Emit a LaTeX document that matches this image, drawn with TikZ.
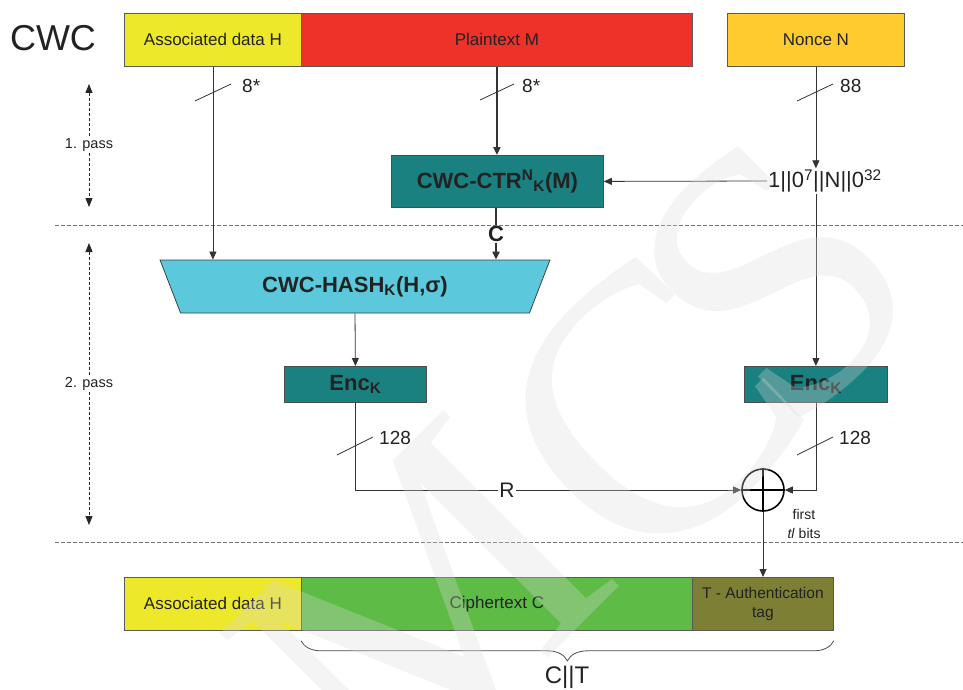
\documentclass[tikz,border=0pt]{standalone}
\usepackage{fontspec}
\setmainfont{Liberation Sans}
\newfontfamily\wmfont{Liberation Serif}
\usetikzlibrary{arrows.meta,shapes.geometric,decorations.pathreplacing}
\definecolor{cyel}{HTML}{EEE82A}
\definecolor{cred}{HTML}{EE3229}
\definecolor{corg}{HTML}{FFCB2E}
\definecolor{cteal}{HTML}{1B8080}
\definecolor{ccyan}{HTML}{5BC8DC}
\definecolor{cgrn}{HTML}{5DBB46}
\definecolor{coli}{HTML}{7D7F35}
\definecolor{ctxt}{HTML}{222222}
\begin{document}
\begin{tikzpicture}[x=1pt,y=-1pt,
  field/.style={draw=black!65, line width=0.8pt, inner sep=0pt, minimum height=53pt,
    anchor=north west, text=ctxt, font=\fontsize{17}{19}\selectfont},
  func/.style={draw=black!70, line width=0.8pt, inner sep=0pt, anchor=north west,
    fill=cteal, text=ctxt, font=\bfseries\fontsize{22}{24}\selectfont},
  lbl/.style={inner sep=1pt, text=ctxt, font=\fontsize{19}{21}\selectfont},
  conn/.style={draw=black!80, line width=0.8pt, -{Triangle[width=7pt,length=8pt]}},
  thin/.style={draw=black!80, line width=0.8pt},
  sep/.style={draw=black!55, line width=0.8pt, dash pattern=on 4pt off 2pt},
  pass/.style={draw=black!85, line width=0.8pt, dash pattern=on 3pt off 2pt,
    {Triangle[width=7pt,length=9pt]}-{Triangle[width=7pt,length=9pt]}},
  passlbl/.style={fill=white, inner sep=1pt, text=ctxt, font=\fontsize{14.5}{16}\selectfont},
  wmark/.style={rotate=45, inner sep=0pt, text=black!15, text opacity=0.3,
    font=\wmfont\fontsize{380}{380}\selectfont}]
\useasboundingbox (0,0) rectangle (963,690);

% title
\node[text=ctxt, font=\fontsize{36}{40}\selectfont] (title) at (53,38) {CWC};

% top row
\node[field, fill=cyel, minimum width=177pt] (ah) at (124,13) {Associated data H};
\node[field, fill=cred, minimum width=391pt] (pm) at (301,13) {Plaintext M};
\node[field, fill=corg, minimum width=177pt] (nn) at (727,13) {Nonce N};

% separators
\draw[sep] (55,225) -- (963,225);
\draw[sep] (55,542) -- (963,542);

% passes
\coordinate (p1a) at (89,84); \coordinate (p1b) at (89,207);
\coordinate (p2a) at (89,243); \coordinate (p2b) at (89,525);
\draw[pass] (p1a) -- (p1b);
\draw[pass] (p2a) -- (p2b);
\node[passlbl] (p1) at (89,145) {1. pass};
\node[passlbl] (p2) at (89,384) {2. pass};

% function boxes
\node[func, minimum width=212pt, minimum height=52pt] (ctr) at (391,155)
  {CWC-CTR\textsuperscript{N}\textsubscript{K}(M)};
\node[lbl, font=\fontsize{22}{24}\selectfont] (cnt) at (825,181)
  {1||0\textsuperscript{7}||N||0\textsuperscript{32}};
\node[trapezium, shape border rotate=180, trapezium angle=62, trapezium stretches=true,
  minimum width=390pt, minimum height=53pt, inner sep=0pt, draw=black!75, line width=0.8pt,
  fill=ccyan, text=ctxt, font=\bfseries\fontsize{22}{24}\selectfont] (hash) at (355,286.5)
  {CWC-HASH\textsubscript{K}(H,σ)};
\node[func, minimum width=142pt, minimum height=36pt] (encL) at (284,366) {Enc\textsubscript{K}};
\node[func, minimum width=143pt, minimum height=36pt] (encR) at (744,366) {Enc\textsubscript{K}};
\node[circle, draw=black, line width=1.6pt, minimum size=42pt, inner sep=0pt] (xor) at (763,490) {};
\draw[line width=1.6pt] (xor.north) -- (xor.south) (xor.west) -- (xor.east);

% C label
\node[font=\bfseries\fontsize{22}{24}\selectfont, text=ctxt, inner sep=1pt] (clab) at (496,234) {C};

% connectors
\draw[conn] (ah.south) -- (ah.south |- hash.north);
\draw[conn, line width=2pt] (pm.south) -- (pm.south |- ctr.north);
\draw[conn] (nn.south) -- (nn.south |- cnt.north);
\draw[conn] (cnt.west) -- (ctr.east);
\draw[thin, line width=2pt] (ctr.south -| clab) -- (clab.north);
\draw[conn, line width=2pt] (clab.south) -- (clab.south |- hash.north);
\draw[conn] (cnt.south -| nn.south) -- (encR.north);
\draw[conn] (hash.south) -- (encL.north);
\draw[conn] (encL.south) |- (xor.west);
\draw[conn] (encR.south) |- (xor.east);

% bit-width marks
\draw[thin] (195,101) -- (231,84);
\node[lbl, anchor=west] (w1) at (241,86) {8*};
\draw[thin] (480,100) -- (514,84);
\node[lbl, anchor=west] (w2) at (521,86) {8*};
\draw[thin] (797,101) -- (833,84);
\node[lbl, anchor=west] (w3) at (839,86) {88};
\draw[thin] (337,455) -- (373,437);
\node[lbl, anchor=west] (w4) at (378,438) {128};
\draw[thin] (797,455) -- (833,437);
\node[lbl, anchor=west] (w5) at (838,438) {128};

\node[text=ctxt, font=\fontsize{14}{19}\selectfont, align=center] (first) at (804,524)
  {first\\\textit{tl} bits};

% bottom row
\node[field, fill=cyel, minimum width=177pt] (bh) at (124,577) {Associated data H};
\node[field, fill=cgrn, minimum width=391pt] (bc) at (301,577) {Ciphertext C};
\node[field, fill=coli, minimum width=141pt, align=center, font=\fontsize{15.5}{19}\selectfont]
  (tag) at (692,577) {T - Authentication\\tag};
\draw[conn] (xor.south) -- (tag.north -| xor.south);

% brace
\draw[draw=black!70, line width=0.8pt, decorate, decoration={brace, mirror, amplitude=20pt}]
  ([yshift=-10pt]bc.south west) -- ([yshift=-10pt]tag.south east);
\node[text=ctxt, font=\fontsize{24}{26}\selectfont] (ct) at (567,677) {C||T};

% watermark
\node[wmark] (wmM) at (420,610) {M};
\node[wmark] (wmC) at (648,412) {C};
\node[wmark] (wmS) at (775,280) {S};

% R label on top of watermark
\node[fill=white, inner sep=1pt, text=ctxt, font=\fontsize{21}{23}\selectfont] (rlab) at (507,490) {R};
\end{tikzpicture}
\end{document}
